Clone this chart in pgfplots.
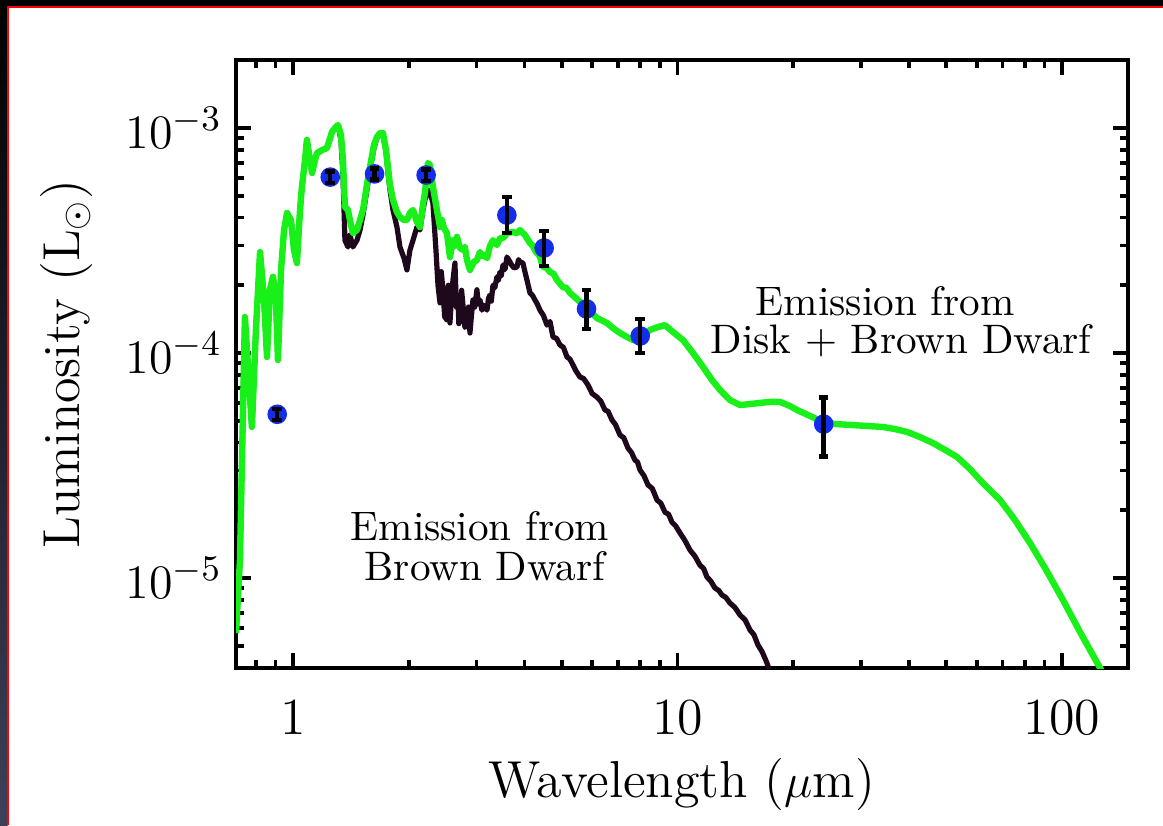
\documentclass[border=0pt]{standalone}
\usepackage{pgfplots}
\pgfplotsset{compat=1.18}
\definecolor{sedgreen}{RGB}{25,240,25}
\definecolor{bdblack}{RGB}{30,8,28}
\definecolor{ptblue}{RGB}{20,45,235}
\definecolor{frameblue}{RGB}{62,64,88}
\begin{document}
\begin{tikzpicture}
\useasboundingbox (0,0) rectangle (290.75pt,206.25pt);
\fill[black] (0,0) rectangle (290.75pt,206.25pt);
\shade[top color=black,bottom color=frameblue] (0,0) rectangle (1.9pt,206.25pt);
\fill[white] (2pt,0) rectangle (290.75pt,204.5pt);
\draw[red,line width=0.35pt] (2pt,0) -- (2pt,204.5pt) -- (290.75pt,204.5pt);
\begin{axis}[
  at={(59pt,39.25pt)}, anchor=south west, scale only axis,
  width=223pt, height=152pt,
  xmode=log, ymode=log,
  xmin=0.711, xmax=148.5, ymin=3.98e-6, ymax=2.005e-3,
  xtick={1,10,100}, xticklabels={1,10,100},
  minor xtick={0.8,0.9,2,3,4,5,6,7,8,9,20,30,40,50,60,70,80,90},
  ytick={1e-5,1e-4,1e-3},
  minor ytick={5e-6,6e-6,7e-6,8e-6,9e-6,2e-5,3e-5,4e-5,5e-5,6e-5,7e-5,8e-5,9e-5,2e-4,3e-4,4e-4,5e-4,6e-4,7e-4,8e-4,9e-4},
  axis line style={line width=1pt},
  tick style={black,line width=0.9pt},
  major tick length=3.75pt, minor tick length=2pt,
  tick align=inside,
  clip marker paths=true,
  ticklabel style={font=\fontsize{13}{15}\selectfont},
  xticklabel style={yshift=-4.5pt},
  xlabel={Wavelength ($\mu$m)},
  ylabel={Luminosity (L$_\odot$)},
  label style={font=\fontsize{13}{15}\selectfont},
  xlabel style={at={(axis description cs:0.5,-0.2122)},anchor=base},
  ylabel style={at={(axis description cs:-0.1749,0.5)},anchor=base},
]
% Brown dwarf only
\addplot[bdblack, line width=1.3pt, line join=round] table {
0.711 5.69e-6
0.728 1.20e-5
0.750 1.445e-4
0.768 7.59e-5
0.782 4.69e-5
0.801 1.265e-4
0.821 2.81e-4
0.841 1.72e-4
0.856 9.60e-5
0.871 1.91e-4
0.887 2.18e-4
0.903 1.72e-4
0.914 9.31e-5
0.931 2.34e-4
0.948 3.52e-4
0.965 4.19e-4
0.988 3.90e-4
1.006 2.87e-4
1.024 2.51e-4
1.043 4.32e-4
1.055 5.47e-4
1.075 7.21e-4
1.087 8.85e-4
1.107 7.21e-4
1.121 6.31e-4
1.141 7.21e-4
1.155 7.74e-4
1.190 7.98e-4
1.226 8.15e-4
1.263 9.60e-4
1.286 1.0e-3
1.309 1.031e-3
1.333 8.85e-4
1.349 6.18e-4
1.365 3.17e-4
1.390 2.96e-4
1.407 3.34e-4
1.432 2.96e-4
1.467 3.17e-4
1.494 3.52e-4
1.521 4.11e-4
1.557 5.30e-4
1.586 6.51e-4
1.624 8.15e-4
1.654 9.03e-4
1.684 9.40e-4
1.714 9.31e-4
1.746 7.82e-4
1.766 6.37e-4
1.788 5.30e-4
1.820 4.32e-4
1.864 3.63e-4
1.898 2.96e-4
1.944 2.64e-4
1.979 2.34e-4
2.015 2.87e-4
2.052 3.17e-4
2.101 3.63e-4
2.139 3.52e-4
2.178 4.32e-4
2.204 4.79e-4
2.244 5.30e-4
2.271 5.20e-4
2.312 4.64e-4
2.354 2.87e-4
2.383 2.00e-4
2.412 1.67e-4
2.430 2.30e-4
2.455 1.91e-4
2.480 1.45e-4
2.515 1.40e-4
2.535 2.00e-4
2.560 1.36e-4
2.585 1.80e-4
2.607 2.11e-4
2.638 2.51e-4
2.660 1.60e-4
2.686 1.72e-4
2.700 1.35e-4
2.718 1.40e-4
2.745 1.90e-4
2.768 1.63e-4
2.800 1.30e-4
2.835 1.33e-4
2.860 1.60e-4
2.886 1.227e-4
2.910 1.45e-4
2.938 1.72e-4
2.970 1.60e-4
3.009 1.91e-4
3.035 1.65e-4
3.064 1.72e-4
3.100 1.55e-4
3.139 1.63e-4
3.196 1.55e-4
3.225 1.75e-4
3.253 1.81e-4
3.280 1.70e-4
3.312 2.00e-4
3.350 1.95e-4
3.392 2.18e-4
3.420 2.10e-4
3.454 2.29e-4
3.480 2.20e-4
3.517 2.46e-4
3.560 2.35e-4
3.602 2.67e-4
3.667 2.54e-4
3.710 2.45e-4
3.756 2.39e-4
3.824 2.41e-4
3.860 2.60e-4
3.894 2.54e-4
3.964 2.51e-4
4.010 2.30e-4
4.060 2.11e-4
4.134 1.85e-4
4.200 1.80e-4
4.260 1.72e-4
4.320 1.65e-4
4.389 1.55e-4
4.480 1.47e-4
4.577 1.33e-4
4.660 1.38e-4
4.745 1.178e-4
4.850 1.16e-4
4.948 1.085e-4
5.050 1.06e-4
5.160 9.60e-5
5.250 9.40e-5
5.349 8.84e-5
5.450 8.30e-5
5.578 7.82e-5
5.700 7.70e-5
5.852 7.21e-5
6.000 6.60e-5
6.174 6.37e-5
6.320 6.10e-5
6.477 5.58e-5
6.600 5.50e-5
6.755 5.04e-5
6.900 4.80e-5
7.087 4.32e-5
7.250 4.20e-5
7.435 3.78e-5
7.600 3.60e-5
7.753 3.34e-5
7.870 3.28e-5
7.990 3.02e-5
8.180 2.85e-5
8.382 2.59e-5
8.600 2.50e-5
8.846 2.22e-5
9.050 2.15e-5
9.279 1.96e-5
9.480 1.92e-5
9.676 1.77e-5
9.900 1.70e-5
10.15 1.585e-5
10.45 1.47e-5
10.78 1.33e-5
11.10 1.25e-5
11.44 1.14e-5
11.70 1.10e-5
11.93 1.01e-5
12.20 9.70e-6
12.51 9.03e-6
12.80 8.80e-6
13.05 8.40e-6
13.35 8.20e-6
13.69 7.74e-6
14.10 7.40e-6
14.54 6.85e-6
15.00 6.50e-6
15.44 5.87e-6
15.80 5.60e-6
16.19 5.04e-6
16.60 4.70e-6
17.09 4.19e-6
17.40 3.82e-6
};
% Disk + brown dwarf
\addplot[sedgreen, line width=1.6pt, line join=round] table {
0.711 5.69e-6
0.728 1.20e-5
0.750 1.445e-4
0.768 7.59e-5
0.782 4.69e-5
0.801 1.265e-4
0.821 2.81e-4
0.841 1.72e-4
0.856 9.60e-5
0.871 1.91e-4
0.887 2.18e-4
0.903 1.72e-4
0.914 9.31e-5
0.931 2.34e-4
0.948 3.52e-4
0.965 4.19e-4
0.988 3.90e-4
1.006 2.87e-4
1.024 2.51e-4
1.043 4.32e-4
1.055 5.47e-4
1.075 7.21e-4
1.087 8.85e-4
1.107 7.21e-4
1.121 6.31e-4
1.141 7.21e-4
1.155 7.74e-4
1.190 7.98e-4
1.226 8.15e-4
1.263 9.60e-4
1.286 1.0e-3
1.309 1.031e-3
1.333 9.31e-4
1.349 7.21e-4
1.365 4.46e-4
1.390 4.32e-4
1.415 3.71e-4
1.432 3.41e-4
1.467 3.52e-4
1.494 3.90e-4
1.521 4.32e-4
1.557 5.58e-4
1.586 6.71e-4
1.624 8.40e-4
1.654 9.12e-4
1.684 9.50e-4
1.714 9.50e-4
1.746 7.98e-4
1.766 6.71e-4
1.788 5.58e-4
1.820 4.79e-4
1.864 4.23e-4
1.898 4.02e-4
1.944 3.90e-4
1.979 3.90e-4
2.015 4.19e-4
2.052 4.32e-4
2.101 3.82e-4
2.139 3.63e-4
2.178 4.55e-4
2.204 5.14e-4
2.244 6.99e-4
2.271 6.85e-4
2.312 5.47e-4
2.368 4.32e-4
2.412 3.63e-4
2.440 3.90e-4
2.470 3.59e-4
2.515 3.41e-4
2.560 2.67e-4
2.607 3.17e-4
2.640 3.00e-4
2.670 3.28e-4
2.718 2.93e-4
2.768 2.87e-4
2.800 2.95e-4
2.835 2.59e-4
2.886 2.34e-4
2.956 2.54e-4
3.009 2.59e-4
3.064 2.81e-4
3.100 2.70e-4
3.139 2.73e-4
3.196 2.64e-4
3.253 2.99e-4
3.312 3.17e-4
3.392 3.02e-4
3.454 3.24e-4
3.517 3.24e-4
3.602 3.41e-4
3.711 3.45e-4
3.824 3.41e-4
3.894 3.52e-4
4.012 3.34e-4
4.134 3.08e-4
4.200 3.00e-4
4.285 2.81e-4
4.380 2.70e-4
4.469 2.41e-4
4.560 2.40e-4
4.660 2.29e-4
4.760 2.25e-4
4.860 2.11e-4
5.038 1.96e-4
5.140 1.95e-4
5.253 1.85e-4
5.511 1.72e-4
5.650 1.65e-4
5.817 1.55e-4
6.000 1.50e-4
6.174 1.43e-4
6.555 1.36e-4
6.796 1.29e-4
7.087 1.227e-4
7.390 1.178e-4
7.661 1.142e-4
7.990 1.178e-4
8.482 1.265e-4
8.846 1.30e-4
9.279 1.33e-4
9.734 1.24e-4
10.33 1.142e-4
10.97 1.0e-4
11.65 8.67e-5
12.29 7.59e-5
12.90 6.85e-5
13.69 6.18e-5
14.54 5.87e-5
15.44 5.93e-5
16.39 6.00e-5
17.40 6.06e-5
18.48 6.06e-5
19.62 5.81e-5
20.46 5.58e-5
22.11 5.25e-5
23.89 4.94e-5
25.84 4.83e-5
28.09 4.79e-5
30.92 4.74e-5
34.24 4.69e-5
36.79 4.59e-5
39.54 4.46e-5
42.73 4.23e-5
46.18 3.98e-5
49.62 3.71e-5
53.34 3.45e-5
57.64 3.05e-5
62.29 2.64e-5
69.01 2.22e-5
75.47 1.81e-5
82.56 1.43e-5
90.31 1.108e-5
100.6 7.98e-6
111.4 5.75e-6
125.6 3.98e-6
129.4 3.60e-6
};
% photometry points
\addplot[only marks, mark=*, mark size=2.25pt, mark options={fill=ptblue, draw=ptblue}] table {
0.91 5.34e-5
1.25 6.05e-4
1.63 6.25e-4
2.22 6.18e-4
3.6 4.10e-4
4.5 2.93e-4
5.8 1.57e-4
8.0 1.19e-4
24 4.83e-5
};
\addplot[draw=none, mark=none,
  error bars/.cd, y dir=both, y explicit,
  error bar style={draw=black, line width=1.1pt},
  error mark options={rotate=90, draw=black, line width=1.1pt, mark size=1.2pt}]
coordinates {
(0.91,5.34e-5) += (0,0.3e-5) -= (0,0.3e-5)
(1.25,6.05e-4) += (0,0.35e-4) -= (0,0.35e-4)
(1.63,6.25e-4) += (0,0.35e-4) -= (0,0.35e-4)
(2.22,6.18e-4) += (0,0.35e-4) -= (0,0.35e-4)
(3.6,4.10e-4) += (0,0.83e-4) -= (0,0.68e-4)
(4.5,2.93e-4) += (0,0.55e-4) -= (0,0.49e-4)
(5.8,1.57e-4) += (0,0.33e-4) -= (0,0.29e-4)
(8.0,1.19e-4) += (0,0.23e-4) -= (0,0.19e-4)
(24,4.83e-5) += (0,1.5e-5) -= (0,1.37e-5)
};
\node[anchor=base, font=\fontsize{10.3}{12}\selectfont] at (rel axis cs:0.7276,0.5806) {Emission from};
\node[anchor=base, font=\fontsize{10.3}{12}\selectfont] at (rel axis cs:0.7455,0.5181) {Disk + Brown Dwarf};
\node[anchor=base, font=\fontsize{10.3}{12}\selectfont] at (rel axis cs:0.2735,0.2105) {Emission from};
\node[anchor=base, font=\fontsize{10.3}{12}\selectfont] at (rel axis cs:0.2791,0.1447) {Brown Dwarf};
\end{axis}
\end{tikzpicture}
\end{document}
